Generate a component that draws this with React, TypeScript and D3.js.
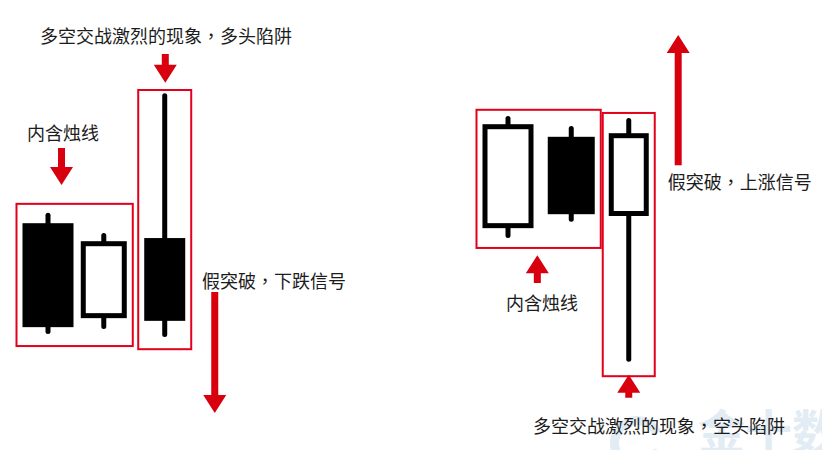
import React, { useEffect, useRef } from 'react';
import * as d3 from 'd3';

// candles, x in "slots", prices in arbitrary units (0 = bottom of the picture)
const candleSlots = [0, 0.97, 2.03, 8, 9.1, 10.1];
const opens = [50.4, 29.3, 47.1, 49.3, 69.6, 52.0];
const highs = [52.7, 48.2, 79.3, 74.2, 72.0, 73.8];
const lows = [25.8, 26.9, 25.1, 47.1, 50.7, 19.6];
const closes = [27.3, 46.4, 28.7, 72.4, 52.4, 70.4];

// red frames around candle groups
const boxFirst = [0, 2, 3, 5];
const boxLast = [1, 2, 4, 5];
const boxTops = [54.7, 80.0, 75.6, 74.9];
const boxBottoms = [23.1, 22.4, 44.9, 16.4];

// arrows: tail price -> tip price
const arrowSlots = [0.235, 2.04, 2.9, 10.96, 8.51, 10.1];
const arrowTails = [67.1, 88.0, 35.1, 63.3, 37.1, 11.6];
const arrowTips = [58.9, 81.6, 8.2, 92.2, 43.3, 16.7];

// annotations
const labelTexts = [
  '多空交战激烈的现象，多头陷阱',
  '内含烛线',
  '假突破，下跌信号',
  '假突破，上涨信号',
  '内含烛线',
  '多空交战激烈的现象，空头陷阱',
];
const labelSlots = [-0.139, -0.365, 2.678, 10.78, 7.965, 8.435];
const labelPrices = [92.2, 70.7, 37.8, 59.8, 32.9, 5.6];

const W = 822;
const H = 450;

const App = () => {
  const ref = useRef<SVGSVGElement | null>(null);

  useEffect(() => {
    const svg = d3.select(ref.current);
    svg.selectAll('*').remove();

    const x = d3.scaleLinear().domain([0, 10]).range([48, 623]);
    const y = d3.scaleLinear().domain([0, 100]).range([H, 0]);

    const bodyWidths = [51, 46, 41, 51, 47, 40];
    const wickW = 5;
    const red = '#e2001a';
    const arrowRed = '#d8000f';
    const font = '"Noto Sans CJK SC", "Noto Sans", sans-serif';
    const wmColor = '#e2ecf5';

    svg.append('rect').attr('width', W).attr('height', H).attr('fill', '#fff');

    // watermark
    const arc = d3.arc()({
      innerRadius: 18,
      outerRadius: 27,
      startAngle: Math.PI * 0.6,
      endAngle: Math.PI * 2.35,
    } as any);
    svg
      .append('path')
      .attr('d', arc)
      .attr('fill', wmColor)
      .attr('transform', 'translate(637,443)');
    svg
      .append('text')
      .attr('x', 698)
      .attr('y', 449)
      .attr('fill', wmColor)
      .style('font-family', font)
      .style('font-size', '47px')
      .style('font-weight', 'bold')
      .text('金十数');

    const candles = candleSlots.map((s, i) => ({
      cx: x(s),
      w: bodyWidths[i],
      open: opens[i],
      high: highs[i],
      low: lows[i],
      close: closes[i],
      up: closes[i] > opens[i],
    }));

    // frames
    const boxes = boxFirst.map((f, i) => {
      const a = candles[f];
      const b = candles[boxLast[i]];
      const pad = 6;
      return {
        x0: a.cx - a.w / 2 - pad,
        x1: b.cx + b.w / 2 + pad,
        top: boxTops[i],
        bottom: boxBottoms[i],
      };
    });
    svg
      .append('g')
      .selectAll('rect')
      .data(boxes)
      .join('rect')
      .attr('x', (d) => d.x0)
      .attr('y', (d) => y(d.top))
      .attr('width', (d) => d.x1 - d.x0)
      .attr('height', (d) => y(d.bottom) - y(d.top))
      .attr('fill', 'none')
      .attr('stroke', red)
      .attr('stroke-width', 2);

    // candles
    const gc = svg.append('g');
    gc.selectAll('line')
      .data(candles)
      .join('line')
      .attr('x1', (d) => d.cx)
      .attr('x2', (d) => d.cx)
      .attr('y1', (d) => y(d.high) + wickW / 2)
      .attr('y2', (d) => y(d.low) - wickW / 2)
      .attr('stroke', '#000')
      .attr('stroke-width', wickW)
      .attr('stroke-linecap', 'round');

    gc.selectAll('rect')
      .data(candles)
      .join('rect')
      .attr('x', (d) => d.cx - d.w / 2 + (d.up ? wickW / 2 : 0))
      .attr('y', (d) => y(Math.max(d.open, d.close)) + (d.up ? wickW / 2 : 0))
      .attr('width', (d) => d.w - (d.up ? wickW : 0))
      .attr(
        'height',
        (d) => Math.abs(y(d.open) - y(d.close)) - (d.up ? wickW : 0)
      )
      .attr('fill', (d) => (d.up ? '#fff' : '#000'))
      .attr('stroke', (d) => (d.up ? '#000' : 'none'))
      .attr('stroke-width', wickW);

    // arrows
    const arrows = arrowSlots.map((s, i) => ({
      cx: x(s),
      tail: y(arrowTails[i]),
      tip: y(arrowTips[i]),
    }));
    const stemW = 7;
    const headW = 23;
    const headL = 18;
    svg
      .append('g')
      .selectAll('path')
      .data(arrows)
      .join('path')
      .attr('d', (d) => {
        const dir = d.tip > d.tail ? 1 : -1;
        const base = d.tip - dir * headL;
        const pts: [number, number][] = [
          [d.cx - stemW / 2, d.tail],
          [d.cx - stemW / 2, base],
          [d.cx - headW / 2, base],
          [d.cx, d.tip],
          [d.cx + headW / 2, base],
          [d.cx + stemW / 2, base],
          [d.cx + stemW / 2, d.tail],
        ];
        return d3.line()(pts) + 'Z';
      })
      .attr('fill', arrowRed);

    // labels (comma drawn centred, as in the picture)
    const labels = svg
      .append('g')
      .selectAll('text')
      .data(labelTexts)
      .join('text')
      .attr('x', (d, i) => x(labelSlots[i]))
      .attr('y', (d, i) => y(labelPrices[i]))
      .attr('dominant-baseline', 'central')
      .attr('fill', '#1c1c1c')
      .style('font-family', font)
      .style('font-size', '18px');

    labels.each(function (d) {
      const t = d3.select(this);
      d.split(/(，)/).forEach((part) => {
        if (!part) return;
        const sp = t.append('tspan').text(part);
        if (part === '，') sp.style('font-family', '"Noto Sans CJK TC", sans-serif');
      });
    });
  }, []);

  return (
    <svg
      ref={ref}
      width={W}
      height={H}
      style={{ position: 'absolute', left: 0, top: 0, display: 'block' }}
    />
  );
};

export default App;
